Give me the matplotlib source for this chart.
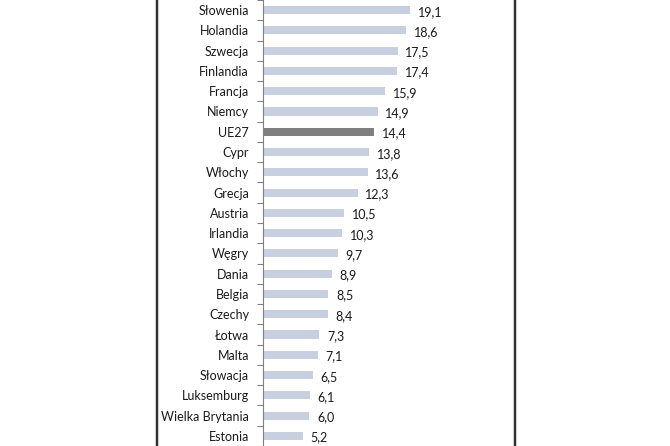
import matplotlib
matplotlib.use("Agg")
import matplotlib.pyplot as plt
from matplotlib.lines import Line2D

countries = ["Słowenia", "Holandia", "Szwecja", "Finlandia", "Francja", "Niemcy", "UE27",
             "Cypr", "Włochy", "Grecja", "Austria", "Irlandia", "Węgry", "Dania", "Belgia",
             "Czechy", "Łotwa", "Malta", "Słowacja", "Luksemburg", "Wielka Brytania", "Estonia"]
values = [19.1, 18.6, 17.5, 17.4, 15.9, 14.9, 14.4, 13.8, 13.6, 12.3, 10.5, 10.3, 9.7,
          8.9, 8.5, 8.4, 7.3, 7.1, 6.5, 6.1, 6.0, 5.2]
highlight = "UE27"

plt.rcParams['font.family'] = ['Lato', 'DejaVu Sans']

W, H = 670, 446
fig = plt.figure(figsize=(W / 100, H / 100), dpi=100)
fig.patch.set_facecolor("white")

ax_left = 263 / W
px_per_unit = 7.7
xmax = 30
ax_w = xmax * px_per_unit / W
ax = fig.add_axes([ax_left, 0, ax_w, 1])

ypos = list(range(len(countries)))
colors = ["#7f7f7f" if c == highlight else "#c8d0e0" for c in countries]
ax.barh(ypos, values, height=0.4, color=colors)

for y, v in zip(ypos, values):
    ax.text(v + 1.0, y + 0.08, f"{v:.1f}".replace(".", ","), va="center", ha="left",
            fontsize=9, color="#1a1a1a")

ax.set_xlim(0, xmax)
ax.set_ylim(21.49, -0.39)

ax.set_yticks(ypos)
ax.set_yticklabels(countries, fontsize=9, color="#1a1a1a")
ax.tick_params(axis="y", which="major", length=0, pad=10)
ax.set_yticks([i + 0.5 for i in range(-1, len(countries))], minor=True)
ax.tick_params(axis="y", which="minor", length=4, width=0.8, color="#808080", direction="out")
ax.set_xticks([])
for s in ["top", "right", "bottom"]:
    ax.spines[s].set_visible(False)
ax.spines["left"].set_color("#808080")
ax.spines["left"].set_linewidth(0.8)
ax.set_facecolor("none")

for xf in (157, 515):
    fig.add_artist(Line2D([xf / W, xf / W], [0, 1], transform=fig.transFigure,
                          color="#d0d0d0", linewidth=3.0))
    fig.add_artist(Line2D([xf / W, xf / W], [0, 1], transform=fig.transFigure,
                          color="#111111", linewidth=1.2))

fig.savefig("out.png", dpi=100)
